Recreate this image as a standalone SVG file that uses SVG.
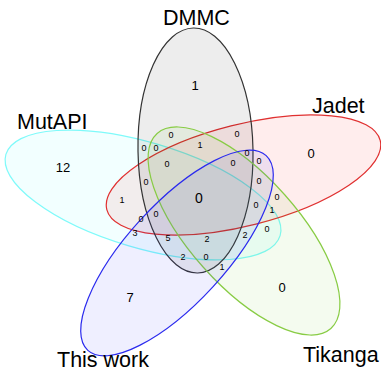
<svg xmlns="http://www.w3.org/2000/svg" width="381" height="373" viewBox="0 0 381 373">
<style>
.set{stroke-width:1.2}
.lbl{font-family:"Liberation Sans",Arial,Helvetica,sans-serif;font-size:21.5px;fill:#000}
.big{font-family:"Liberation Sans",Arial,Helvetica,sans-serif;font-size:13px;fill:#000;text-anchor:middle}
.sm{font-family:"Liberation Sans",Arial,Helvetica,sans-serif;font-size:9px;fill:#000;text-anchor:middle}
</style>
<rect width="381" height="373" fill="#fff"/>
<g id="connectors"></g>
<g id="MutAPI">
<ellipse class="set" cx="143" cy="195" rx="143" ry="52.8" transform="rotate(16.5 143 195)" fill="#00ffff" fill-opacity="0.05" stroke="#7ffafa"/>
<text class="lbl" x="17" y="129">MutAPI</text>
</g>
<g id="Jadet">
<ellipse class="set" cx="243.5" cy="175" rx="141" ry="50.6" transform="rotate(-14.2 243.5 175)" fill="#ff0000" fill-opacity="0.07" stroke="#e03030"/>
<text class="lbl" x="312" y="113">Jadet</text>
</g>
<g id="DMMC">
<ellipse class="set" cx="195.5" cy="150.5" rx="57.5" ry="122.5" transform="rotate(-1 195.5 150.5)" fill="#000000" fill-opacity="0.07" stroke="#333"/>
<text class="lbl" x="163" y="25">DMMC</text>
</g>
<g id="Tikanga">
<ellipse class="set" cx="244" cy="231" rx="130.6" ry="54.5" transform="rotate(48.3 244 231)" fill="#66cc22" fill-opacity="0.07" stroke="#88cc44"/>
<text class="lbl" x="303" y="362">Tikanga</text>
</g>
<g id="ThisWork">
<ellipse class="set" cx="177" cy="253" rx="132" ry="49.3" transform="rotate(-47.5 177 253)" fill="#3333ff" fill-opacity="0.08" stroke="#2a2aee"/>
<text class="lbl" x="57" y="367">This work</text>
</g>
<g id="counts">
<text class="big" x="195" y="90">1</text>
<text class="big" x="311" y="158">0</text>
<text class="big" x="63" y="172">12</text>
<text class="big" x="282" y="292">0</text>
<text class="big" x="130" y="302">7</text>
<text class="big" x="199" y="203" style="font-size:14px">0</text>
<text class="sm" x="171" y="138">0</text>
<text class="sm" x="237" y="137">0</text>
<text class="sm" x="144" y="151">0</text>
<text class="sm" x="156" y="151">0</text>
<text class="sm" x="200" y="148">1</text>
<text class="sm" x="247" y="156">0</text>
<text class="sm" x="259" y="164">0</text>
<text class="sm" x="167" y="167">0</text>
<text class="sm" x="233" y="166">0</text>
<text class="sm" x="146" y="185">0</text>
<text class="sm" x="259" y="184">0</text>
<text class="sm" x="122" y="203">1</text>
<text class="sm" x="277" y="200">0</text>
<text class="sm" x="256" y="208">0</text>
<text class="sm" x="272" y="213">1</text>
<text class="sm" x="156" y="217">0</text>
<text class="sm" x="141" y="222">0</text>
<text class="sm" x="267" y="232">0</text>
<text class="sm" x="135" y="236">3</text>
<text class="sm" x="168" y="241">5</text>
<text class="sm" x="207" y="242">2</text>
<text class="sm" x="245" y="238">2</text>
<text class="sm" x="183" y="260">2</text>
<text class="sm" x="206" y="260">0</text>
<text class="sm" x="222" y="270">1</text>
</g>
</svg>
